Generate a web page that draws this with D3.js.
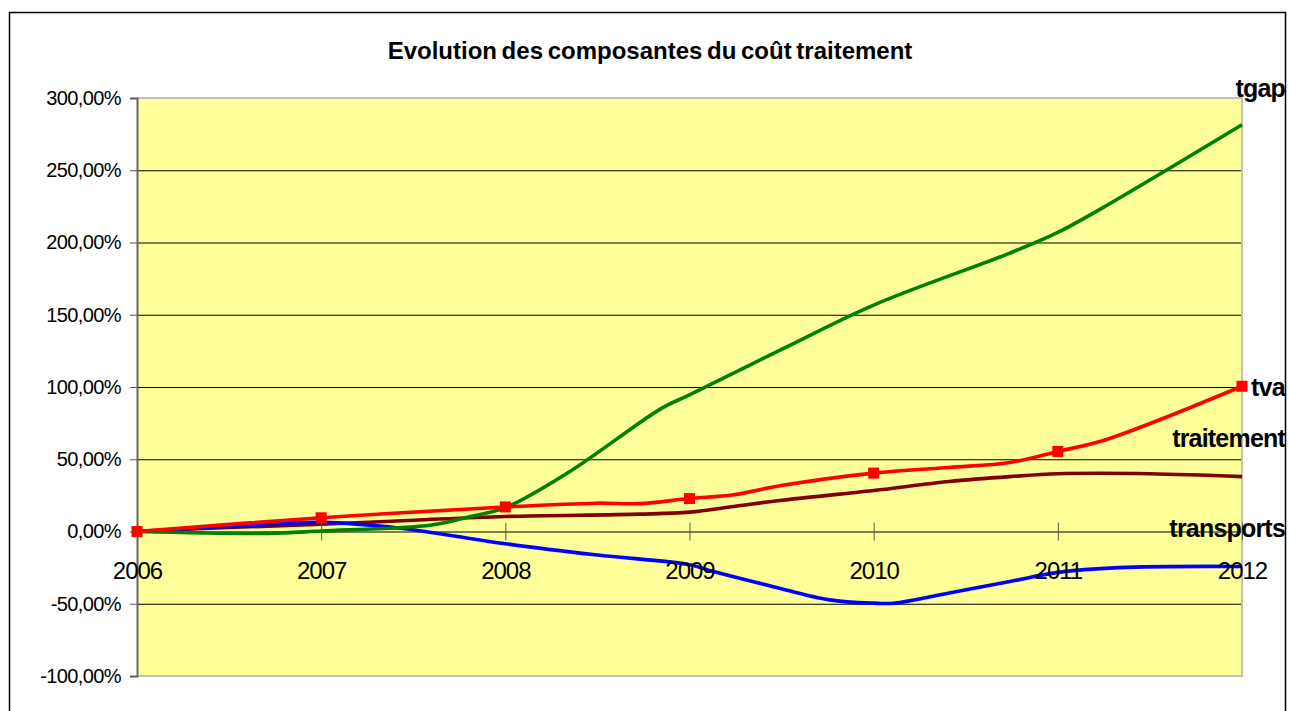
<!DOCTYPE html>
<html>
<head>
<meta charset="utf-8">
<script src="https://cdn.jsdelivr.net/npm/d3@7/dist/d3.min.js"></script>
<style>
  body { margin: 0; background: #fff; }
  svg { display: block; font-family: "Liberation Sans", Arial, sans-serif; }
</style>
</head>
<body>
<div id="chart"></div>
<script>
// Tick labels
const years = [2006, 2007, 2008, 2009, 2010, 2011, 2012];
const yTicks = [-100, -50, 0, 50, 100, 150, 200, 250, 300];

// Series values: [year, percent]
const tgap = [[2006, 0], [2006.7, -1.3], [2007, 0.3], [2007.6, 4.5], [2007.8, 10], [2008, 16.5],
  [2008.35, 41.5], [2008.85, 85.4], [2009, 94.5], [2009.5, 126], [2010, 156.7], [2010.74, 192.7],
  [2011, 207], [2011.24, 223.8], [2012, 281.5]];
const tva = [[2006, 0], [2007, 9.5], [2008, 17], [2008.49, 19.6], [2008.73, 19.3], [2009, 22.8],
  [2009.24, 25.4], [2009.49, 31.6], [2010, 40.4], [2010.41, 44.3], [2010.74, 47.8], [2011, 55.4],
  [2011.26, 63.5], [2012, 100.5]];
const traitement = [[2006, 0], [2006.5, 2.8], [2007, 5], [2007.5, 7.8], [2008, 10.4], [2008.73, 12],
  [2009, 13.4], [2009.24, 17.3], [2009.49, 21.5], [2010, 28.4], [2010.41, 34.6], [2010.74, 38],
  [2011, 40], [2011.5, 40], [2012, 38]];
const transports = [[2006, 0], [2006.5, 3.5], [2007, 6.3], [2007.43, 2.3], [2008, -8.5], [2008.5, -16.3],
  [2009, -23], [2009.13, -27.7], [2009.45, -38], [2009.76, -47.3], [2010, -49.6],
  [2010.11, -49.6], [2010.41, -42.6], [2010.74, -34.6], [2011, -28.3],
  [2011.33, -25], [2012, -24.2]];

const width = 1289, height = 711;
const plot = { left: 137, right: 1242, top: 98, bottom: 676 };

const svg = d3.select("#chart").append("svg")
  .attr("width", width)
  .attr("height", height);

// outer chart border (bottom edge runs off the page)
svg.append("rect")
  .attr("x", 9.5).attr("y", 12.5)
  .attr("width", 1276).attr("height", 740)
  .attr("fill", "none").attr("stroke", "#000").attr("stroke-width", 1.5);

// Title
svg.append("text")
  .attr("x", 650).attr("y", 59)
  .attr("text-anchor", "middle")
  .attr("font-size", "24px")
  .attr("font-weight", "bold")
  .attr("letter-spacing", "0")
  .attr("word-spacing", "-2")
  .text("Evolution des composantes du coût traitement");

const x = d3.scaleLinear().domain([2006, 2012]).range([plot.left, plot.right]);
const y = d3.scaleLinear().domain([-100, 300]).range([plot.bottom, plot.top]);

// Plot background
svg.append("rect")
  .attr("x", plot.left).attr("y", plot.top)
  .attr("width", plot.right - plot.left).attr("height", plot.bottom - plot.top)
  .attr("fill", "#ffff99");

// Gridlines
svg.append("g")
  .attr("transform", `translate(${plot.left},0)`)
  .call(d3.axisLeft(y).tickValues(yTicks.filter(d => d > -100 && d < 300))
    .tickSize(-(plot.right - plot.left)).tickFormat(""))
  .call(g => g.select(".domain").remove())
  .call(g => g.selectAll("line").attr("stroke", "#000").attr("stroke-width", 1));

// Plot border (top, right, bottom)
svg.append("path")
  .attr("d", `M${plot.left},${plot.top}H${plot.right}V${plot.bottom}H${plot.left}`)
  .attr("fill", "none").attr("stroke", "#c0c0c0").attr("stroke-width", 2);

// Y axis, french number format with a plain hyphen for negatives
const fr = d3.formatLocale({ decimal: ",", thousands: " ", grouping: [3], currency: ["", "€"], minus: "-" });
const fmt = v => fr.format(".2f")(v) + "%";
svg.append("g")
  .attr("transform", `translate(${plot.left},0)`)
  .call(d3.axisLeft(y).tickValues(yTicks).tickSize(7).tickPadding(9).tickFormat(fmt))
  .call(g => g.select(".domain").attr("stroke", "#666").attr("stroke-width", 2))
  .call(g => g.selectAll("line").attr("stroke", "#555"))
  .call(g => g.selectAll("text")
    .attr("font-size", "20px")
    .attr("font-family", "Liberation Sans, Arial, sans-serif")
    .attr("letter-spacing", "-0.6")
    .attr("fill", "#000"));

// Series lines
const line = d3.line()
  .x(d => x(d[0]))
  .y(d => y(d[1]))
  .curve(d3.curveCatmullRom.alpha(0.5));

const series = [
  { name: "traitement", data: traitement, color: "#800000" },
  { name: "transports", data: transports, color: "#0000ff" },
  { name: "tgap", data: tgap, color: "#008000" },
  { name: "tva", data: tva, color: "#ff0000" }
];

svg.selectAll(".series")
  .data(series)
  .enter()
  .append("path")
  .attr("class", "series")
  .attr("d", d => line(d.data))
  .attr("fill", "none")
  .attr("stroke", d => d.color)
  .attr("stroke-width", 3.6)
  .attr("stroke-linejoin", "round");

// X axis at 0 (ticks cross the line)
const xAxis = svg.append("g")
  .attr("transform", `translate(0,${y(0)})`)
  .call(d3.axisBottom(x).tickValues(years).tickSize(9).tickPadding(0).tickFormat(d3.format("d")))
  .call(g => g.select(".domain").remove());
xAxis.selectAll("line")
  .attr("y1", -9)
  .attr("stroke", "#555");
xAxis.selectAll("text")
  .attr("y", 47)
  .attr("dy", 0)
  .attr("font-size", "24px")
  .attr("font-family", "Liberation Sans, Arial, sans-serif")
  .attr("letter-spacing", "-1")
  .attr("fill", "#000");

// Markers on tva at yearly points
svg.selectAll(".marker")
  .data(tva.filter(d => Number.isInteger(d[0])))
  .enter()
  .append("rect")
  .attr("class", "marker")
  .attr("x", d => x(d[0]) - 5.5)
  .attr("y", d => y(d[1]) - 5.5)
  .attr("width", 11)
  .attr("height", 11)
  .attr("fill", "#ff0000");

// Series name labels at the end of each line
const labels = [
  { name: "tgap", x: 1285, y: 97, anchor: "end" },
  { name: "tva", x: 1251, y: 396, anchor: "start" },
  { name: "traitement", x: 1285, y: 447, anchor: "end" },
  { name: "transports", x: 1285, y: 537, anchor: "end" }
];
svg.selectAll(".serie-label")
  .data(labels)
  .enter()
  .append("text")
  .attr("class", "serie-label")
  .attr("x", d => d.x)
  .attr("y", d => d.y)
  .attr("text-anchor", d => d.anchor)
  .attr("font-size", "25px")
  .attr("font-weight", "bold")
  .attr("letter-spacing", "-0.8")
  .text(d => d.name);
</script>
</body>
</html>
